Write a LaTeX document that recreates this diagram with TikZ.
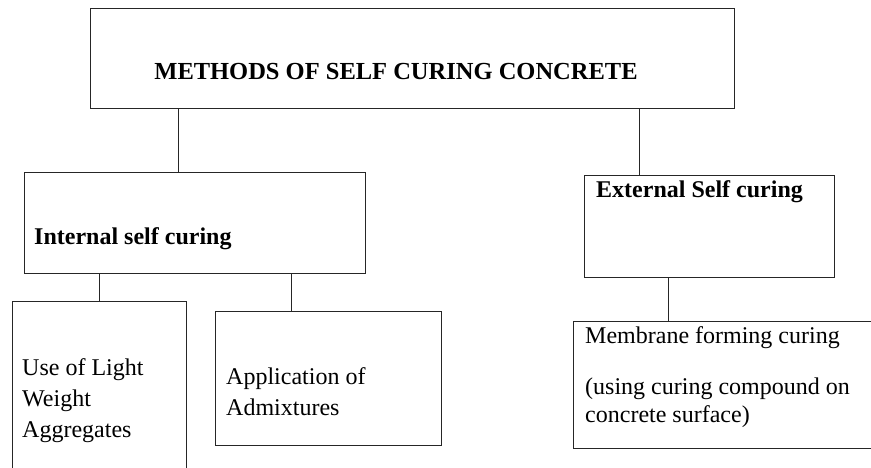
\documentclass[tikz,border=0pt]{standalone}
\usepackage{fontspec}
\setmainfont{Liberation Serif}

\begin{document}
\begin{tikzpicture}[x=1pt, y=-1pt,
  % Define the style of the boxes
  box/.style={rectangle, draw=black!85, line width=0.9pt, inner sep=0pt, outer sep=0pt},
  % Define the style of the connecting lines
  link/.style={draw=black!85, line width=0.9pt},
  % Define the style of the bold headings
  heading/.style={font=\fontsize{24}{31}\selectfont\bfseries, inner sep=0pt, anchor=base west},
  % Define the style of the plain box texts
  plain/.style={font=\fontsize{24}{31}\selectfont, inner sep=0pt, anchor=base west, align=left}
  ]

  \useasboundingbox (0,0) rectangle (871,468);

  % Boxes
  \node[box, minimum width=644pt, minimum height=100pt] (methods) at (412,58) {};
  \node[box, minimum width=341pt, minimum height=101pt] (internal) at (194.5,222.5) {};
  \node[box, minimum width=250pt, minimum height=102pt] (external) at (709,226) {};
  \node[box, minimum width=174pt, minimum height=190pt] (light) at (99,396) {};
  \node[box, minimum width=226pt, minimum height=134pt] (admix) at (328,378) {};
  \node[box, minimum width=320pt, minimum height=127pt] (membrane) at (733,384.5) {};

  % Box texts (multi-line texts sit on the baseline of their last line)
  \node[heading, font=\fontsize{24.5}{31}\selectfont\bfseries, anchor=base] (title) at (396,80) {METHODS OF SELF CURING CONCRETE};
  \node[heading] (internaltext) at (34,244) {Internal self curing};
  \node[heading] (externaltext) at (596,197) {External Self curing};
  \node[plain] (lighttext) at (22,437) {Use of Light\\Weight\\Aggregates};
  \node[plain] (admixtext) at (226,415) {Application of\\Admixtures};
  \node[plain] (membranetext) at (585,343) {Membrane forming curing};
  \node[plain, font=\fontsize{24}{28}\selectfont] (compoundtext) at (585,422) {(using curing compound on\\concrete surface)};

  % Connect the boxes
  \draw[link] ([xshift=-16.5pt]internal.north) -- ([xshift=-16.5pt]internal.north |- methods.south);
  \draw[link] ([xshift=-70pt]external.north) -- ([xshift=-70pt]external.north |- methods.south);
  \draw[link] (light.north) -- (light.north |- internal.south);
  \draw[link] ([xshift=-37pt]admix.north) -- ([xshift=-37pt]admix.north |- internal.south);
  \draw[link] ([xshift=-65pt]membrane.north) -- ([xshift=-65pt]membrane.north |- external.south);
\end{tikzpicture}
\end{document}
